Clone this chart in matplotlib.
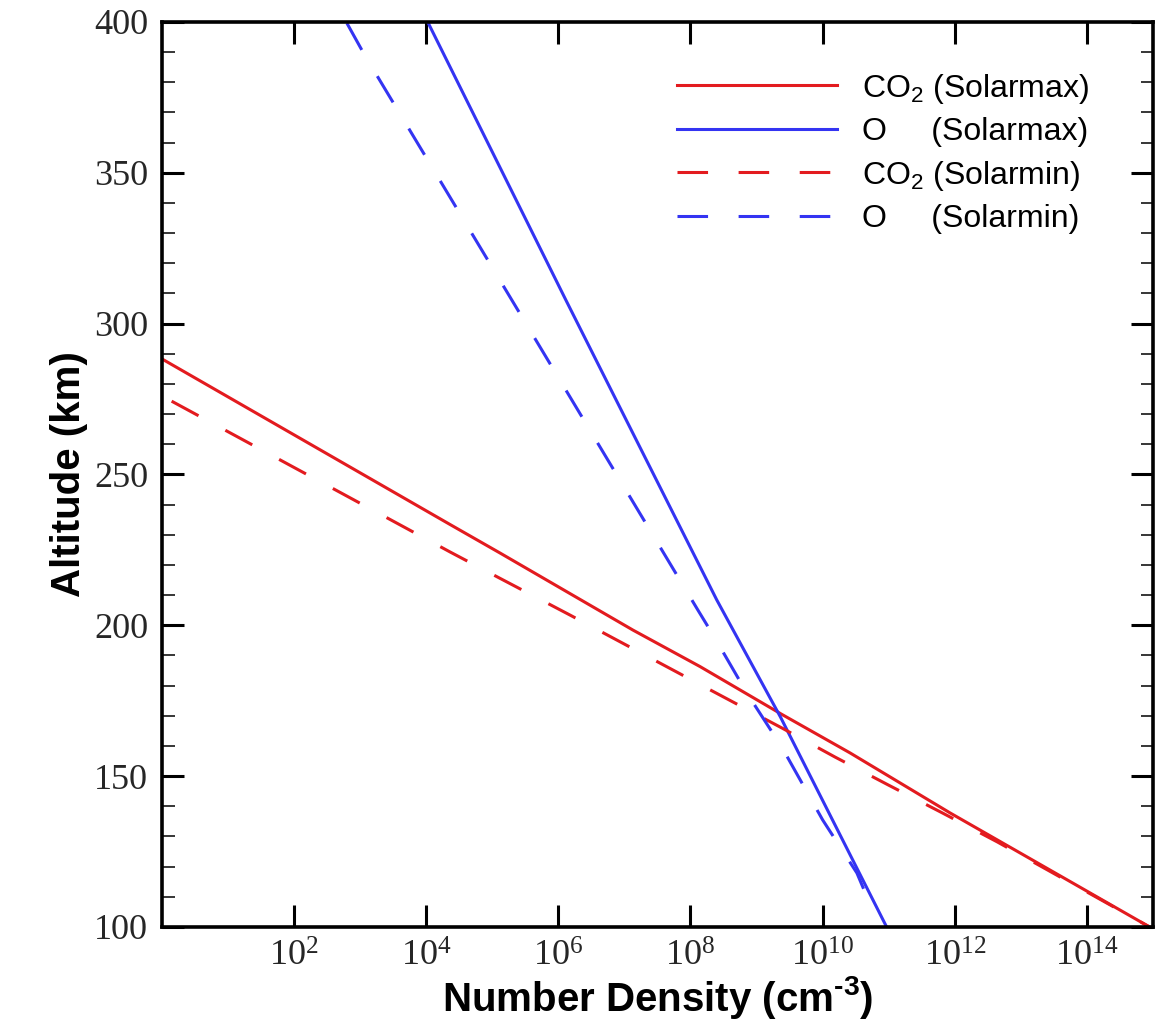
import matplotlib
matplotlib.use("Agg")
import matplotlib.pyplot as plt
from matplotlib.ticker import FixedLocator, LogFormatterMathtext, MultipleLocator

# CO2 and O number densities (cm^-3) vs altitude (km)
co2_max_alt = [288.3, 233.4, 224.0, 198.4, 186.3, 170.5, 157.7, 137.8, 100.0]
co2_max_den = [1.0, 2.3e4, 1.3e5, 1.35e7, 1.4e8, 2.4e9, 2.6e10, 8.5e11, 8.9e14]

co2_min_alt = [274.3, 224.3, 215.6, 203.4, 179.5, 166.0, 156.3, 147.1, 137.8, 128.2, 100.0]
co2_min_den = [1.4, 2.3e4, 1.3e5, 1.5e6, 1.66e8, 2.4e9, 1.55e10, 9.8e10, 6.5e11, 4.4e12, 8.9e14]

o_max_alt = [401.0, 307.8, 208.4, 169.6, 100.0]
o_max_den = [1.0e4, 1.3e6, 2.5e8, 2.3e9, 9.3e10]

o_min_alt = [399.6, 389.0, 301.2, 205.1, 195.8, 177.6, 159.7, 135.5, 117.9, 106.0]
o_min_den = [6.3e2, 1.17e3, 3.0e5, 1.29e8, 2.34e8, 7.1e8, 2.4e9, 1.0e10, 3.3e10, 5.6e10]

labels = ["CO$_\\mathregular{2}$ (Solarmax)", "O     (Solarmax)",
          "CO$_\\mathregular{2}$ (Solarmin)", "O     (Solarmin)"]
xticks = [1e2, 1e4, 1e6, 1e8, 1e10, 1e12, 1e14]

red = "#e31b1f"
blue = "#3434f2"

plt.rcParams["font.family"] = "Liberation Serif"

fig = plt.figure(figsize=(11.57, 10.27), dpi=100)
ax = fig.add_axes([0.1400, 0.0974, 0.8565, 0.8812])

lw = 2.2
ax.plot(co2_max_den, co2_max_alt, color=red, linewidth=lw, label=labels[0])
ax.plot(o_max_den, o_max_alt, color=blue, linewidth=lw, label=labels[1])
ax.plot(co2_min_den, co2_min_alt, color=red, linewidth=lw, dashes=(10, 10), label=labels[2])
ax.plot(o_min_den, o_min_alt, color=blue, linewidth=lw, dashes=(10, 10), label=labels[3])

ax.set_xscale("log")
ax.set_xlim(1, 1e15)
ax.set_ylim(100, 400)
ax.xaxis.set_major_locator(FixedLocator(xticks))
ax.xaxis.set_major_formatter(LogFormatterMathtext())
ax.xaxis.set_minor_locator(FixedLocator([]))
ax.yaxis.set_major_locator(MultipleLocator(50))
ax.yaxis.set_minor_locator(MultipleLocator(10))

ax.tick_params(which="both", direction="in", top=True, right=True, labelsize=26,
               colors="black", labelcolor="#262626")
ax.tick_params(which="major", length=16, width=2.2, pad=10)
ax.tick_params(which="minor", length=9, width=1.1)
for s in ax.spines.values():
    s.set_linewidth(2.6)

ax.set_xlabel("Number Density (cm$^{\\mathregular{\u2010 3}}$)", family="Liberation Sans",
              fontweight="bold", fontsize=29, labelpad=0)
ax.set_ylabel("Altitude (km)", family="Liberation Sans", fontweight="bold", fontsize=29, labelpad=4)

ax.legend(loc="upper right", bbox_to_anchor=(0.965, 0.977), frameon=False,
          prop={"family": "Liberation Sans", "size": 23}, handlelength=5.0,
          handletextpad=0.8, labelspacing=0.36)

fig.savefig("out.png", dpi=100)
